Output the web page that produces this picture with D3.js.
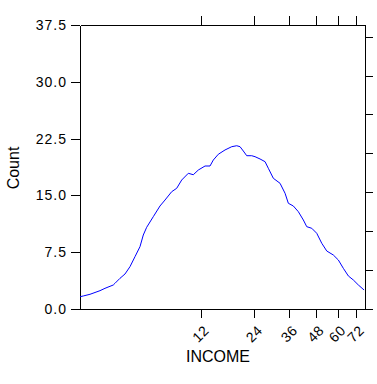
<!DOCTYPE html>
<html><head><meta charset="utf-8">
<script src="https://cdn.jsdelivr.net/npm/d3@7"></script>
<style>
html,body{margin:0;padding:0;background:#fff;}
text{font-family:"Liberation Sans",Arial,sans-serif;fill:#000;}
</style></head>
<body><svg id="c" width="377" height="384"></svg>
<script>
const incomes = [1.545,1.654,1.896,2.309,2.542,2.967,3.061,3.351,3.663,3.997,4.356,4.739,5.007,5.294,5.892,6.552,7.084,7.848,8.462,9.110,10.03,10.77,11.56,12.69,13.58,14.20,15.18,16.58,18.08,19.27,20.09,20.93,21.83,23.21,24.16,25.66,27.23,28.30,30.00,32.40,34.29,35.58,37.62,39.74,41.97,43.53,45.92,48.41,51.02,53.72,57.47,60.46,63.56,66.80,70.15,73.65,77.80];
const counts = [1.62,1.72,1.94,2.42,2.73,3.17,3.39,4.05,4.62,5.59,6.91,8.23,9.77,10.79,12.19,13.60,14.39,15.49,15.94,17.03,17.92,17.73,18.35,18.88,18.88,19.67,20.43,21.00,21.43,21.56,21.43,20.86,20.24,20.24,20.11,19.81,19.45,18.58,17.26,16.60,15.28,13.96,13.60,12.85,11.75,10.87,10.66,10.00,8.68,7.66,7.13,6.47,5.37,4.36,3.83,3.17,2.51];
const xTicks = [12,24,36,48,60,72];
const yTicks = [0,7.5,15,22.5,30,37.5];
const rightTicks = [0,1,2,3,4,5,6,7];

const svg = d3.select("#c");
const L=80,R=365,T=25,B=309;
const x = d3.scalePow().exponent(0.2).domain([1.545,78.5]).range([L,R]);
const y = d3.scaleLinear().domain([0,37.5]).range([B,T]);
const y2 = d3.scaleLinear().domain([0,7.30]).range([B,T]);

const g = svg.append("g");
// left axis
const ax = g.append("g").attr("transform",`translate(${L},0)`)
  .call(d3.axisLeft(y).tickValues(yTicks).tickSize(9).tickSizeOuter(0).tickFormat(d3.format(".1f")));
ax.selectAll("text").style("font-size","14px").style("letter-spacing","1px").attr("x",-13);
// right axis
g.append("g").attr("transform",`translate(${R},0)`)
  .call(d3.axisRight(y2).tickValues(rightTicks).tickSize(8).tickSizeOuter(0).tickFormat(""));
// top axis
g.append("g").attr("transform",`translate(0,${T})`)
  .call(d3.axisTop(x).tickValues(xTicks).tickSize(9).tickSizeOuter(0).tickFormat(""));
// bottom axis
const bx = g.append("g").attr("transform",`translate(0,${B})`)
  .call(d3.axisBottom(x).tickValues(xTicks).tickSize(9).tickSizeOuter(0).tickFormat(d3.format("d")));
bx.selectAll("text").style("font-size","14px").style("letter-spacing","0.5px")
  .attr("text-anchor","end").attr("x",0).attr("y",0).attr("dy","0.35em")
  .attr("transform","translate(5,19) rotate(-45)");
svg.selectAll(".domain,.tick line").attr("stroke","#000").attr("shape-rendering","crispEdges");
svg.selectAll(".tick text").attr("font-family",null);

// line
const line = d3.line().x((d,i)=>x(incomes[i])).y(d=>y(d));
svg.append("path").datum(counts).attr("d",line).attr("fill","none")
  .attr("stroke","#0000ff").attr("stroke-width",1);

// labels
svg.append("text").attr("transform","translate(19,168) rotate(-90)")
  .attr("text-anchor","middle").style("font-size","16px").text("Count");
svg.append("text").attr("x",218).attr("y",362)
  .attr("text-anchor","middle").style("font-size","16px").text("INCOME");
</script></body></html>
